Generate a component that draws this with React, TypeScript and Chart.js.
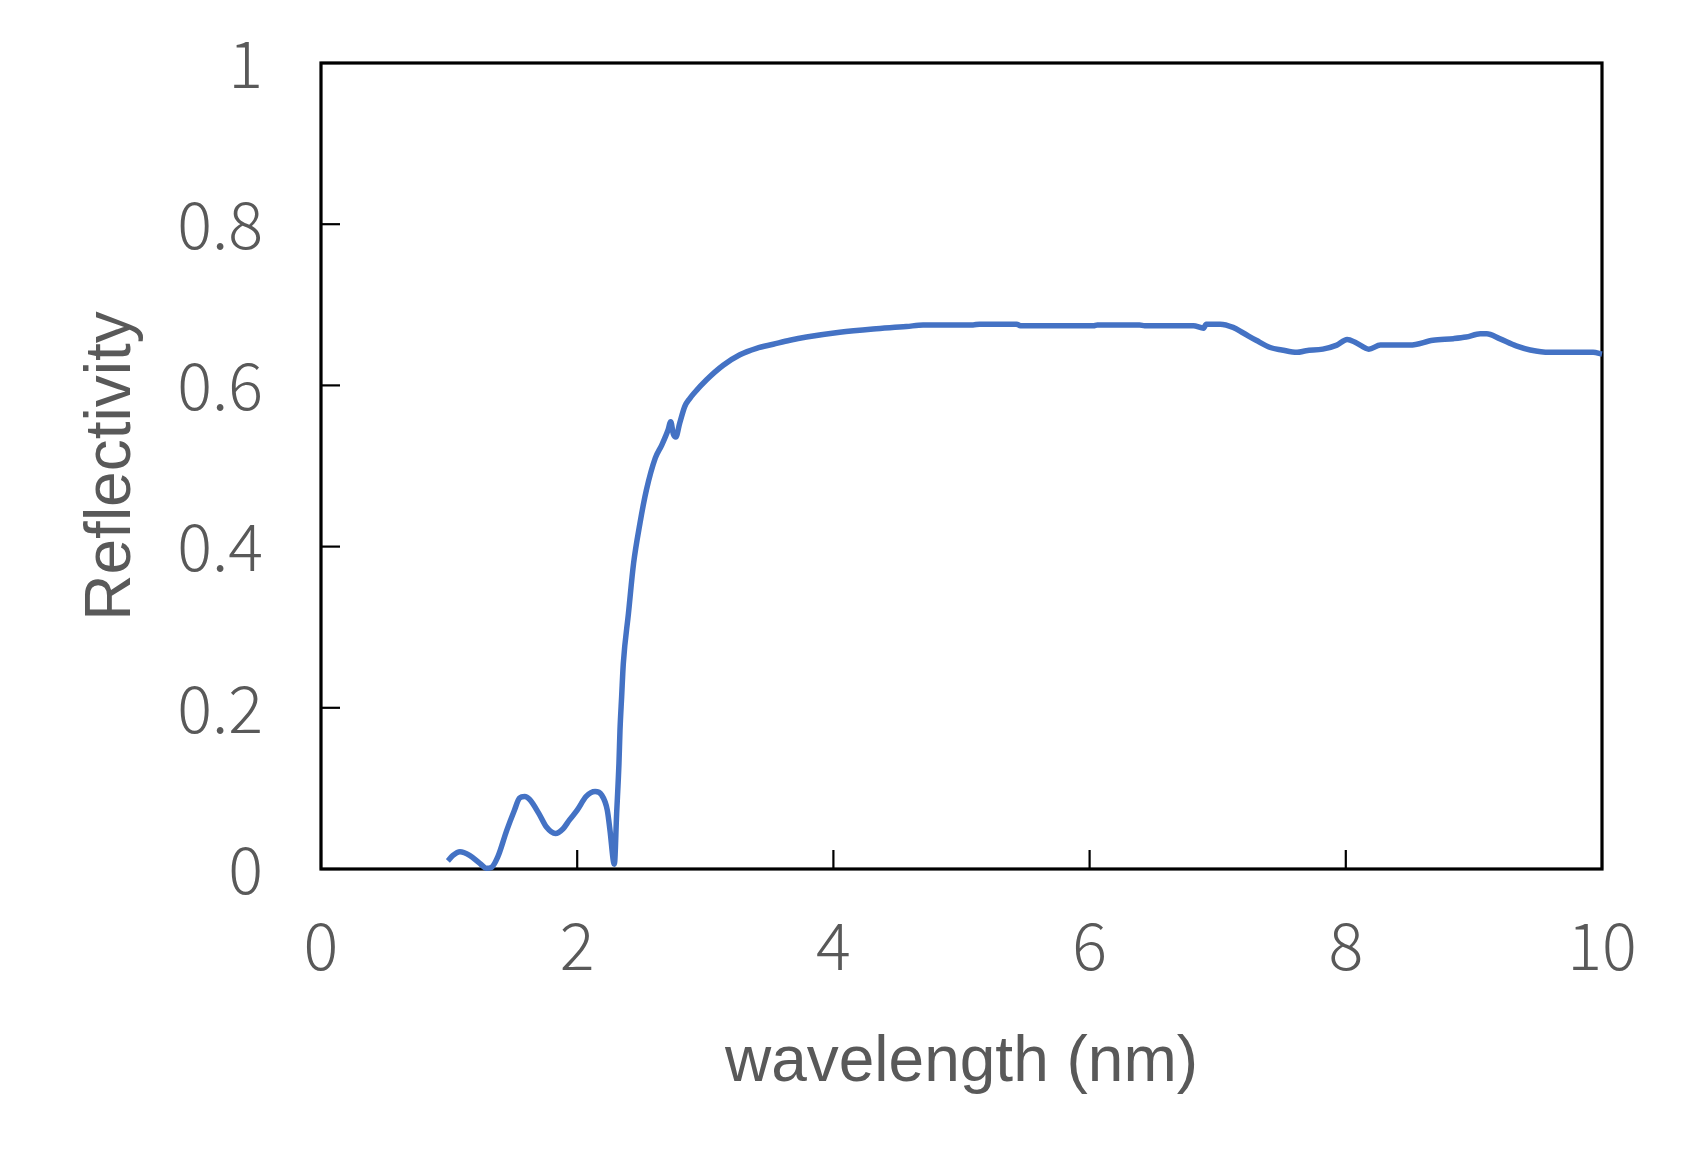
import React, { useEffect, useRef } from "react";
import { Chart, registerables } from "chart.js";

Chart.register(...registerables);

const wavelength: number[] = [
  0.99, 1.03, 1.085, 1.16, 1.24, 1.29, 1.33, 1.38, 1.45, 1.51, 1.55, 1.59, 1.63,
  1.7, 1.76, 1.83, 1.89, 1.94, 2.0, 2.07, 2.14, 2.19, 2.235, 2.256, 2.29, 2.308,
  2.326, 2.334, 2.347, 2.36, 2.4, 2.44, 2.49, 2.54, 2.61, 2.66, 2.71, 2.73, 2.75,
  2.77, 2.8, 2.84, 2.88, 2.91, 3.01, 3.14, 3.27, 3.4, 3.53, 3.66, 3.79, 4.05,
  4.31, 4.57, 4.7, 5.09, 5.14, 5.43, 5.46, 6.03, 6.06, 6.39, 6.43, 6.81, 6.89,
  6.91, 7.02, 7.12, 7.2, 7.3, 7.41, 7.5, 7.62, 7.69, 7.82, 7.93, 8.01, 8.08,
  8.18, 8.27, 8.5, 8.68, 8.84, 8.94, 9.05, 9.1, 9.2, 9.33, 9.44, 9.59, 9.93, 10.0,
];

const reflectivity: number[] = [
  0.01, 0.017, 0.0215, 0.017, 0.007, 0.001, 0.002, 0.015, 0.048, 0.073, 0.088,
  0.09, 0.086, 0.069, 0.052, 0.044, 0.05, 0.061, 0.073, 0.09, 0.096, 0.092,
  0.073, 0.048, 0.006, 0.069, 0.131, 0.172, 0.214, 0.255, 0.317, 0.379, 0.429,
  0.47, 0.51, 0.526, 0.545, 0.555, 0.54, 0.536, 0.553, 0.574, 0.584, 0.59,
  0.607, 0.625, 0.638, 0.646, 0.651, 0.656, 0.66, 0.666, 0.67, 0.673, 0.675,
  0.675, 0.676, 0.676, 0.674, 0.674, 0.675, 0.675, 0.674, 0.674, 0.671, 0.676,
  0.676, 0.672, 0.665, 0.656, 0.647, 0.644, 0.641, 0.643, 0.645, 0.65, 0.657,
  0.653, 0.645, 0.65, 0.65, 0.656, 0.658, 0.66, 0.664, 0.664, 0.658, 0.649,
  0.644, 0.641, 0.641, 0.639,
];

const xTickValues: number[] = [0, 2, 4, 6, 8, 10];
const yTickValues: number[] = [0, 0.2, 0.4, 0.6, 0.8, 1];
const xTitle = "wavelength (nm)";
const yTitle = "Reflectivity";

const TEXT = "#595959";
const TICK_FONT = { family: "'Noto Sans CJK JP', 'Noto Sans', sans-serif", size: 65, weight: 300 as any };
const TITLE_FONT = { family: "'Liberation Sans', Arial, sans-serif", size: 64, weight: "normal" as any };

const framePlugin = {
  id: "frame",
  beforeDatasetsDraw(chart: any) {
    const { ctx, chartArea, scales } = chart;
    const { left, right, top, bottom } = chartArea;
    ctx.save();
    ctx.strokeStyle = "#000";
    ctx.lineWidth = 2.2;
    const tl = 19;
    for (const v of xTickValues) {
      const px = scales.x.getPixelForValue(v);
      ctx.beginPath();
      ctx.moveTo(px, bottom);
      ctx.lineTo(px, bottom - tl);
      ctx.stroke();
    }
    for (const v of yTickValues) {
      const py = scales.y.getPixelForValue(v);
      ctx.beginPath();
      ctx.moveTo(left, py);
      ctx.lineTo(left + tl, py);
      ctx.stroke();
    }
    ctx.lineWidth = 3.2;
    ctx.strokeRect(left, top, right - left, bottom - top);
    ctx.restore();
  },
};

export default function App() {
  const ref = useRef<HTMLCanvasElement | null>(null);
  useEffect(() => {
    if (!ref.current) return;
    const points = wavelength.map((x, i) => ({ x, y: reflectivity[i] }));
    const chart = new Chart(ref.current, {
      type: "line",
      data: {
        datasets: [
          {
            data: points,
            borderColor: "#4472C4",
            borderWidth: 5.5,
            pointRadius: 0,
            cubicInterpolationMode: "monotone",
            clip: false as any,
            fill: false,
          },
        ],
      },
      options: {
        animation: false,
        responsive: true,
        maintainAspectRatio: false,
        parsing: false as any,
        layout: { padding: { top: 63, right: 86, bottom: 0, left: 0 } },
        plugins: { legend: { display: false }, tooltip: { enabled: false } },
        scales: {
          x: {
            type: "linear",
            min: 0,
            max: 10,
            afterFit: (s: any) => {
              s.height = 300;
              s.paddingLeft = 0;
              s.paddingRight = 0;
            },
            afterBuildTicks: (s: any) => {
              s.ticks = xTickValues.map((v) => ({ value: v }));
            },
            border: { display: false },
            grid: { display: false, drawTicks: false },
            ticks: {
              color: TEXT,
              font: TICK_FONT,
              padding: 37,
              maxRotation: 0,
              callback: (v: any) => String(v),
            },
            title: {
              display: true,
              text: xTitle,
              color: TEXT,
              font: TITLE_FONT,
              padding: { top: 0, bottom: 67 },
            },
          },
          y: {
            type: "linear",
            min: 0,
            max: 1,
            afterFit: (s: any) => {
              s.width = 321;
              s.paddingTop = 0;
              s.paddingBottom = 0;
            },
            afterBuildTicks: (s: any) => {
              s.ticks = yTickValues.map((v) => ({ value: v }));
            },
            border: { display: false },
            grid: { display: false, drawTicks: false },
            ticks: {
              color: TEXT,
              font: TICK_FONT,
              padding: 58,
              callback: (v: any) => String(v),
            },
            title: {
              display: true,
              text: yTitle,
              color: TEXT,
              font: TITLE_FONT,
              padding: { top: 74, bottom: 0 },
            },
          },
        },
      },
      plugins: [framePlugin],
    });
    return () => chart.destroy();
  }, []);
  return (
    <div style={{ position: "fixed", left: 0, top: 0, width: 1688, height: 1169, background: "#fff" }}>
      <canvas ref={ref} />
    </div>
  );
}
